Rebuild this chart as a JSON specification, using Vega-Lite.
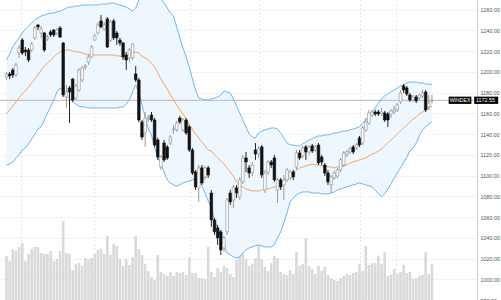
{
"$schema": "https://vega.github.io/schema/vega-lite/v6.json",
"width": 477, "height": 300,
"autosize": "none",
"padding": {"left": 0, "top": 0, "right": 24, "bottom": 0},
"background": "white",
"config": {"view": {"stroke": null}},
"datasets": {
"d": [
{"i":0,"o":1195.1,"h":1199.9,"l":1192.2,"c":1198.0,"u":1211.5,"m":1159.4,"lo":1110.2,"v":44},
{"i":1,"o":1198.0,"h":1199.9,"l":1193.1,"c":1196.0,"u":1217.2,"m":1163.3,"lo":1111.2,"v":39},
{"i":2,"o":1201.8,"h":1203.7,"l":1194.1,"c":1197.0,"u":1224.0,"m":1167.1,"lo":1113.1,"v":51},
{"i":3,"o":1197.0,"h":1208.6,"l":1195.1,"c":1206.6,"u":1228.8,"m":1171.0,"lo":1117.0,"v":49},
{"i":4,"o":1218.2,"h":1225.9,"l":1213.4,"c":1223.0,"u":1232.7,"m":1174.8,"lo":1119.9,"v":53},
{"i":5,"o":1230.7,"h":1232.7,"l":1216.3,"c":1218.2,"u":1237.5,"m":1178.7,"lo":1124.7,"v":57},
{"i":6,"o":1221.1,"h":1224.0,"l":1215.3,"c":1219.2,"u":1241.3,"m":1181.6,"lo":1126.6,"v":39},
{"i":7,"o":1221.1,"h":1223.0,"l":1209.5,"c":1211.5,"u":1244.2,"m":1185.4,"lo":1130.5,"v":46},
{"i":8,"o":1221.1,"h":1228.8,"l":1219.2,"c":1226.9,"u":1247.1,"m":1189.3,"lo":1135.3,"v":51},
{"i":9,"o":1232.7,"h":1244.2,"l":1230.7,"c":1242.3,"u":1250.0,"m":1193.1,"lo":1140.1,"v":53},
{"i":10,"o":1245.2,"h":1246.2,"l":1240.4,"c":1243.3,"u":1251.9,"m":1197.0,"lo":1144.9,"v":53},
{"i":11,"o":1237.5,"h":1244.2,"l":1232.7,"c":1241.3,"u":1253.9,"m":1201.8,"lo":1146.9,"v":47},
{"i":12,"o":1237.5,"h":1238.5,"l":1219.2,"c":1221.1,"u":1254.8,"m":1205.7,"lo":1153.6,"v":46},
{"i":13,"o":1231.7,"h":1235.6,"l":1229.8,"c":1233.6,"u":1255.8,"m":1208.6,"lo":1160.4,"v":46},
{"i":14,"o":1238.5,"h":1240.4,"l":1233.6,"c":1235.6,"u":1256.8,"m":1211.5,"lo":1166.1,"v":49},
{"i":15,"o":1240.4,"h":1241.3,"l":1233.6,"c":1235.6,"u":1256.8,"m":1214.4,"lo":1172.9,"v":39},
{"i":16,"o":1237.5,"h":1242.3,"l":1235.6,"c":1240.4,"u":1257.7,"m":1217.2,"lo":1180.6,"v":41},
{"i":17,"o":1242.3,"h":1244.2,"l":1232.7,"c":1233.6,"u":1258.7,"m":1219.2,"lo":1184.5,"v":49},
{"i":18,"o":1227.8,"h":1228.8,"l":1175.8,"c":1177.7,"u":1259.7,"m":1220.1,"lo":1181.6,"v":79},
{"i":19,"o":1175.8,"h":1187.4,"l":1165.2,"c":1180.6,"u":1261.6,"m":1221.1,"lo":1177.7,"v":47},
{"i":20,"o":1184.5,"h":1186.4,"l":1150.7,"c":1180.6,"u":1262.6,"m":1221.1,"lo":1173.9,"v":46},
{"i":21,"o":1193.1,"h":1194.1,"l":1171.0,"c":1172.9,"u":1262.6,"m":1220.1,"lo":1171.0,"v":30},
{"i":22,"o":1174.8,"h":1188.3,"l":1172.9,"c":1186.4,"u":1263.5,"m":1219.2,"lo":1169.0,"v":36},
{"i":23,"o":1182.5,"h":1203.7,"l":1180.6,"c":1201.8,"u":1263.5,"m":1219.2,"lo":1167.1,"v":37},
{"i":24,"o":1192.2,"h":1205.7,"l":1190.2,"c":1203.7,"u":1264.5,"m":1218.2,"lo":1166.1,"v":34},
{"i":25,"o":1204.7,"h":1207.6,"l":1201.8,"c":1205.7,"u":1264.5,"m":1217.2,"lo":1166.1,"v":42},
{"i":26,"o":1209.5,"h":1217.2,"l":1206.6,"c":1214.4,"u":1264.5,"m":1216.3,"lo":1165.2,"v":41},
{"i":27,"o":1214.4,"h":1225.9,"l":1213.4,"c":1224.0,"u":1264.5,"m":1216.3,"lo":1165.2,"v":42},
{"i":28,"o":1230.7,"h":1236.5,"l":1229.8,"c":1234.6,"u":1264.5,"m":1216.3,"lo":1165.2,"v":46},
{"i":29,"o":1237.5,"h":1248.1,"l":1235.6,"c":1245.2,"u":1264.5,"m":1216.3,"lo":1165.2,"v":50},
{"i":30,"o":1249.1,"h":1254.8,"l":1242.3,"c":1243.3,"u":1265.4,"m":1216.3,"lo":1165.2,"v":51},
{"i":31,"o":1241.3,"h":1248.1,"l":1239.4,"c":1245.2,"u":1265.4,"m":1216.3,"lo":1165.2,"v":46},
{"i":32,"o":1251.0,"h":1252.9,"l":1223.0,"c":1224.0,"u":1265.4,"m":1216.3,"lo":1165.2,"v":64},
{"i":33,"o":1230.7,"h":1250.0,"l":1228.8,"c":1248.1,"u":1266.4,"m":1216.3,"lo":1165.2,"v":45},
{"i":34,"o":1249.1,"h":1251.0,"l":1230.7,"c":1232.7,"u":1266.4,"m":1216.3,"lo":1165.2,"v":56},
{"i":35,"o":1237.5,"h":1239.4,"l":1225.9,"c":1232.7,"u":1265.4,"m":1215.3,"lo":1165.2,"v":54},
{"i":36,"o":1230.7,"h":1232.7,"l":1225.0,"c":1227.8,"u":1264.5,"m":1215.3,"lo":1166.1,"v":41},
{"i":37,"o":1227.8,"h":1228.8,"l":1211.5,"c":1214.4,"u":1263.5,"m":1214.4,"lo":1166.1,"v":34},
{"i":38,"o":1216.3,"h":1219.2,"l":1201.8,"c":1211.5,"u":1262.6,"m":1214.4,"lo":1169.0,"v":41},
{"i":39,"o":1213.4,"h":1223.0,"l":1209.5,"c":1221.1,"u":1260.6,"m":1216.3,"lo":1172.9,"v":35},
{"i":40,"o":1213.4,"h":1227.8,"l":1211.5,"c":1226.9,"u":1258.7,"m":1218.2,"lo":1180.6,"v":43},
{"i":41,"o":1198.0,"h":1205.7,"l":1190.2,"c":1192.2,"u":1261.6,"m":1219.2,"lo":1187.4,"v":64},
{"i":42,"o":1192.2,"h":1194.1,"l":1151.7,"c":1153.6,"u":1269.3,"m":1218.2,"lo":1179.6,"v":51},
{"i":43,"o":1151.7,"h":1153.6,"l":1134.3,"c":1137.2,"u":1277.0,"m":1215.3,"lo":1168.1,"v":45},
{"i":44,"o":1141.1,"h":1161.3,"l":1127.6,"c":1155.5,"u":1281.8,"m":1213.4,"lo":1156.5,"v":36},
{"i":45,"o":1154.6,"h":1158.4,"l":1151.7,"c":1155.5,"u":1285.7,"m":1211.5,"lo":1144.9,"v":29},
{"i":46,"o":1158.4,"h":1161.3,"l":1151.7,"c":1153.6,"u":1288.6,"m":1208.6,"lo":1139.2,"v":23},
{"i":47,"o":1153.6,"h":1155.5,"l":1127.6,"c":1129.5,"u":1284.7,"m":1204.7,"lo":1126.6,"v":20},
{"i":48,"o":1134.3,"h":1136.3,"l":1115.1,"c":1117.9,"u":1277.0,"m":1198.9,"lo":1117.9,"v":45},
{"i":49,"o":1108.3,"h":1119.9,"l":1105.4,"c":1117.9,"u":1270.3,"m":1193.1,"lo":1111.2,"v":28},
{"i":50,"o":1131.4,"h":1134.3,"l":1113.1,"c":1115.1,"u":1266.4,"m":1188.3,"lo":1103.5,"v":26},
{"i":51,"o":1127.6,"h":1129.5,"l":1115.1,"c":1117.0,"u":1261.6,"m":1183.5,"lo":1095.8,"v":24},
{"i":52,"o":1131.4,"h":1139.2,"l":1129.5,"c":1137.2,"u":1256.8,"m":1177.7,"lo":1092.9,"v":28},
{"i":53,"o":1144.0,"h":1148.8,"l":1140.1,"c":1144.9,"u":1253.9,"m":1172.9,"lo":1091.0,"v":24},
{"i":54,"o":1144.0,"h":1152.7,"l":1142.1,"c":1150.7,"u":1243.3,"m":1168.1,"lo":1090.0,"v":28},
{"i":55,"o":1155.5,"h":1157.5,"l":1149.8,"c":1151.7,"u":1232.7,"m":1163.3,"lo":1091.0,"v":27},
{"i":56,"o":1144.0,"h":1155.5,"l":1142.1,"c":1153.6,"u":1223.0,"m":1159.4,"lo":1092.9,"v":28},
{"i":57,"o":1153.6,"h":1155.5,"l":1139.2,"c":1141.1,"u":1214.4,"m":1154.6,"lo":1093.9,"v":25},
{"i":58,"o":1146.9,"h":1148.8,"l":1122.8,"c":1124.7,"u":1204.7,"m":1148.8,"lo":1094.8,"v":43},
{"i":59,"o":1124.7,"h":1126.6,"l":1100.6,"c":1102.5,"u":1193.1,"m":1144.9,"lo":1095.8,"v":27},
{"i":60,"o":1103.5,"h":1105.4,"l":1086.1,"c":1089.0,"u":1182.5,"m":1140.1,"lo":1096.7,"v":27},
{"i":61,"o":1088.1,"h":1110.2,"l":1074.6,"c":1107.4,"u":1174.8,"m":1136.3,"lo":1094.8,"v":22},
{"i":62,"o":1107.4,"h":1110.2,"l":1091.0,"c":1092.9,"u":1173.9,"m":1132.4,"lo":1090.0,"v":22},
{"i":63,"o":1098.7,"h":1109.3,"l":1095.8,"c":1107.4,"u":1172.9,"m":1128.6,"lo":1083.2,"v":21},
{"i":64,"o":1107.4,"h":1109.3,"l":1097.7,"c":1100.6,"u":1172.9,"m":1124.7,"lo":1075.5,"v":53},
{"i":65,"o":1083.2,"h":1086.1,"l":1050.5,"c":1057.2,"u":1173.9,"m":1123.7,"lo":1068.8,"v":28},
{"i":66,"o":1057.2,"h":1059.2,"l":1042.8,"c":1045.7,"u":1174.8,"m":1119.9,"lo":1057.2,"v":23},
{"i":67,"o":1049.5,"h":1052.4,"l":1033.1,"c":1039.9,"u":1175.8,"m":1117.0,"lo":1049.5,"v":32},
{"i":68,"o":1045.7,"h":1047.6,"l":1023.5,"c":1028.3,"u":1177.7,"m":1114.1,"lo":1040.8,"v":28},
{"i":69,"o":1030.2,"h":1041.8,"l":1026.4,"c":1039.9,"u":1181.6,"m":1111.2,"lo":1032.2,"v":34},
{"i":70,"o":1045.7,"h":1078.4,"l":1042.8,"c":1076.5,"u":1180.6,"m":1107.4,"lo":1025.4,"v":32},
{"i":71,"o":1083.2,"h":1086.1,"l":1071.7,"c":1074.6,"u":1179.6,"m":1103.5,"lo":1023.5,"v":26},
{"i":72,"o":1076.5,"h":1091.0,"l":1068.8,"c":1089.0,"u":1173.9,"m":1099.6,"lo":1021.6,"v":23},
{"i":73,"o":1088.1,"h":1091.0,"l":1078.4,"c":1083.2,"u":1167.1,"m":1093.9,"lo":1020.6,"v":40},
{"i":74,"o":1079.4,"h":1098.7,"l":1076.5,"c":1095.8,"u":1160.4,"m":1091.0,"lo":1021.6,"v":44},
{"i":75,"o":1093.9,"h":1119.9,"l":1091.9,"c":1117.0,"u":1153.6,"m":1089.0,"lo":1025.4,"v":47},
{"i":76,"o":1117.0,"h":1122.8,"l":1103.5,"c":1113.1,"u":1146.9,"m":1087.1,"lo":1028.3,"v":41},
{"i":77,"o":1107.4,"h":1110.2,"l":1097.7,"c":1102.5,"u":1140.1,"m":1086.1,"lo":1030.2,"v":34},
{"i":78,"o":1102.5,"h":1113.1,"l":1099.6,"c":1110.2,"u":1137.2,"m":1085.2,"lo":1031.2,"v":36},
{"i":79,"o":1124.7,"h":1131.4,"l":1115.1,"c":1120.8,"u":1136.3,"m":1085.2,"lo":1032.2,"v":42},
{"i":80,"o":1120.8,"h":1128.6,"l":1117.0,"c":1125.7,"u":1141.1,"m":1085.2,"lo":1033.1,"v":55},
{"i":81,"o":1127.6,"h":1129.5,"l":1097.7,"c":1100.6,"u":1143.0,"m":1086.1,"lo":1032.2,"v":41},
{"i":82,"o":1086.1,"h":1105.4,"l":1083.2,"c":1102.5,"u":1144.0,"m":1087.1,"lo":1031.2,"v":33},
{"i":83,"o":1103.5,"h":1115.1,"l":1100.6,"c":1113.1,"u":1144.9,"m":1087.1,"lo":1031.2,"v":29},
{"i":84,"o":1113.1,"h":1115.1,"l":1107.4,"c":1110.2,"u":1145.9,"m":1088.1,"lo":1031.2,"v":37},
{"i":85,"o":1117.0,"h":1119.9,"l":1093.9,"c":1095.8,"u":1145.9,"m":1089.0,"lo":1033.1,"v":44},
{"i":86,"o":1086.1,"h":1097.7,"l":1073.6,"c":1095.8,"u":1144.9,"m":1091.0,"lo":1039.9,"v":42},
{"i":87,"o":1095.8,"h":1097.7,"l":1086.1,"c":1089.0,"u":1141.1,"m":1092.9,"lo":1045.7,"v":28},
{"i":88,"o":1091.0,"h":1100.6,"l":1076.5,"c":1095.8,"u":1136.3,"m":1095.8,"lo":1054.3,"v":26},
{"i":89,"o":1095.8,"h":1107.4,"l":1093.9,"c":1105.4,"u":1131.4,"m":1098.7,"lo":1064.0,"v":25},
{"i":90,"o":1097.7,"h":1105.4,"l":1095.8,"c":1103.5,"u":1129.5,"m":1100.6,"lo":1074.6,"v":30},
{"i":91,"o":1103.5,"h":1105.4,"l":1095.8,"c":1098.7,"u":1129.5,"m":1102.5,"lo":1078.4,"v":26},
{"i":92,"o":1108.3,"h":1124.7,"l":1105.4,"c":1121.8,"u":1128.6,"m":1105.4,"lo":1081.3,"v":48},
{"i":93,"o":1121.8,"h":1124.7,"l":1115.1,"c":1117.0,"u":1128.6,"m":1107.4,"lo":1083.2,"v":34},
{"i":94,"o":1118.9,"h":1128.6,"l":1117.0,"c":1126.6,"u":1130.5,"m":1108.3,"lo":1084.2,"v":36},
{"i":95,"o":1127.6,"h":1129.5,"l":1115.1,"c":1122.8,"u":1132.4,"m":1109.3,"lo":1084.2,"v":62},
{"i":96,"o":1122.8,"h":1129.5,"l":1119.9,"c":1127.6,"u":1134.3,"m":1110.2,"lo":1084.2,"v":34},
{"i":97,"o":1128.6,"h":1130.5,"l":1121.8,"c":1123.7,"u":1135.3,"m":1111.2,"lo":1083.2,"v":31},
{"i":98,"o":1124.7,"h":1129.5,"l":1122.8,"c":1127.6,"u":1137.2,"m":1110.2,"lo":1083.2,"v":26},
{"i":99,"o":1129.5,"h":1131.4,"l":1110.2,"c":1112.2,"u":1138.2,"m":1110.2,"lo":1083.2,"v":34},
{"i":100,"o":1117.9,"h":1119.9,"l":1110.2,"c":1113.1,"u":1138.2,"m":1109.3,"lo":1082.3,"v":29},
{"i":101,"o":1110.2,"h":1112.2,"l":1099.6,"c":1102.5,"u":1139.2,"m":1109.3,"lo":1082.3,"v":33},
{"i":102,"o":1102.5,"h":1105.4,"l":1091.0,"c":1093.9,"u":1139.2,"m":1108.3,"lo":1082.3,"v":25},
{"i":103,"o":1091.0,"h":1100.6,"l":1083.2,"c":1098.7,"u":1140.1,"m":1108.3,"lo":1083.2,"v":22},
{"i":104,"o":1097.7,"h":1104.5,"l":1095.8,"c":1102.5,"u":1141.1,"m":1107.4,"lo":1084.2,"v":20},
{"i":105,"o":1099.6,"h":1107.4,"l":1097.7,"c":1105.4,"u":1141.1,"m":1108.3,"lo":1086.1,"v":19},
{"i":106,"o":1105.4,"h":1117.0,"l":1103.5,"c":1115.1,"u":1142.1,"m":1108.3,"lo":1087.1,"v":22},
{"i":107,"o":1110.2,"h":1123.7,"l":1108.3,"c":1121.8,"u":1143.0,"m":1109.3,"lo":1088.1,"v":24},
{"i":108,"o":1119.9,"h":1124.7,"l":1117.9,"c":1122.8,"u":1143.0,"m":1110.2,"lo":1089.0,"v":26},
{"i":109,"o":1122.8,"h":1127.6,"l":1120.8,"c":1125.7,"u":1144.0,"m":1112.2,"lo":1090.0,"v":25},
{"i":110,"o":1127.6,"h":1129.5,"l":1120.8,"c":1122.8,"u":1144.9,"m":1113.1,"lo":1091.0,"v":27},
{"i":111,"o":1126.6,"h":1131.4,"l":1124.7,"c":1129.5,"u":1145.9,"m":1114.1,"lo":1091.9,"v":28},
{"i":112,"o":1136.3,"h":1138.2,"l":1127.6,"c":1129.5,"u":1146.9,"m":1115.1,"lo":1092.9,"v":36},
{"i":113,"o":1131.4,"h":1147.8,"l":1129.5,"c":1145.9,"u":1150.7,"m":1116.0,"lo":1091.9,"v":29},
{"i":114,"o":1144.0,"h":1155.5,"l":1142.1,"c":1151.7,"u":1153.6,"m":1117.0,"lo":1091.0,"v":54},
{"i":115,"o":1150.7,"h":1163.3,"l":1148.8,"c":1160.4,"u":1157.5,"m":1118.9,"lo":1090.0,"v":35},
{"i":116,"o":1158.4,"h":1163.3,"l":1156.5,"c":1161.3,"u":1161.3,"m":1120.8,"lo":1089.0,"v":37},
{"i":117,"o":1161.3,"h":1163.3,"l":1157.5,"c":1159.4,"u":1165.2,"m":1121.8,"lo":1086.1,"v":37},
{"i":118,"o":1161.3,"h":1163.3,"l":1157.5,"c":1159.4,"u":1170.0,"m":1123.7,"lo":1082.3,"v":44},
{"i":119,"o":1159.4,"h":1165.2,"l":1157.5,"c":1161.3,"u":1173.9,"m":1125.7,"lo":1079.4,"v":36},
{"i":120,"o":1160.4,"h":1162.3,"l":1151.7,"c":1153.6,"u":1176.8,"m":1128.6,"lo":1082.3,"v":48},
{"i":121,"o":1159.4,"h":1161.3,"l":1146.9,"c":1153.6,"u":1178.7,"m":1131.4,"lo":1087.1,"v":24},
{"i":122,"o":1159.4,"h":1164.2,"l":1155.5,"c":1162.3,"u":1180.6,"m":1134.3,"lo":1091.9,"v":25},
{"i":123,"o":1161.3,"h":1167.1,"l":1159.4,"c":1163.3,"u":1182.5,"m":1137.2,"lo":1097.7,"v":31},
{"i":124,"o":1163.3,"h":1170.0,"l":1161.3,"c":1168.1,"u":1184.5,"m":1140.1,"lo":1102.5,"v":26},
{"i":125,"o":1171.0,"h":1182.5,"l":1169.0,"c":1179.6,"u":1186.4,"m":1143.0,"lo":1107.4,"v":28},
{"i":126,"o":1186.4,"h":1188.3,"l":1179.6,"c":1182.5,"u":1187.4,"m":1145.9,"lo":1112.2,"v":35},
{"i":127,"o":1184.5,"h":1186.4,"l":1176.8,"c":1178.7,"u":1189.3,"m":1148.8,"lo":1117.9,"v":27},
{"i":128,"o":1177.7,"h":1179.6,"l":1171.0,"c":1172.9,"u":1190.2,"m":1151.7,"lo":1123.7,"v":28},
{"i":129,"o":1172.9,"h":1177.7,"l":1171.0,"c":1175.8,"u":1190.2,"m":1154.6,"lo":1126.6,"v":21},
{"i":130,"o":1175.8,"h":1177.7,"l":1170.0,"c":1171.9,"u":1190.2,"m":1156.5,"lo":1131.4,"v":22},
{"i":131,"o":1174.8,"h":1178.7,"l":1172.9,"c":1177.7,"u":1189.3,"m":1159.4,"lo":1138.2,"v":24},
{"i":132,"o":1176.8,"h":1182.5,"l":1174.8,"c":1179.6,"u":1189.3,"m":1161.3,"lo":1144.0,"v":25},
{"i":133,"o":1180.6,"h":1182.5,"l":1161.3,"c":1163.3,"u":1188.3,"m":1163.3,"lo":1146.9,"v":48},
{"i":134,"o":1166.1,"h":1177.7,"l":1163.3,"c":1170.0,"u":1188.3,"m":1165.2,"lo":1149.8,"v":26},
{"i":135,"o":1171.9,"h":1177.7,"l":1170.0,"c":1172.55,"u":1187.4,"m":1167.1,"lo":1151.7,"v":36}
],
"vg": [{"i":4.8},{"i":28.1},{"i":58.5},{"i":80.3},{"i":112.3},{"i":123.8}]
},
"resolve": {"scale": {"y": "independent"}},
"layer": [
{"data": {"name": "vg"}, "mark": {"type": "rule", "stroke": "#e6e6e6", "strokeDash": [2, 2], "strokeWidth": 1},
 "encoding": {"x": {"field": "i", "type": "quantitative", "scale": {"domain": [-0.47, 147.7], "nice": false, "zero": false}, "axis": null}}},
{"data": {"name": "d"}, "mark": {"type": "area", "color": "#eef6fe", "clip": true},
 "encoding": {
  "x": {"field": "i", "type": "quantitative", "scale": {"domain": [-0.47, 147.7], "nice": false, "zero": false}, "axis": null},
  "y": {"field": "u", "type": "quantitative", "scale": {"domain": [980, 1269.3], "nice": false, "zero": false},
        "axis": {"orient": "right", "values": [980,1000,1020,1040,1060,1080,1100,1120,1140,1160,1180,1200,1220,1240,1260], "format": ".2f", "title": null,
                 "grid": true, "gridDash": [2, 2], "gridColor": "#e6e6e6", "ticks": false, "domainColor": "#d0d0d0",
                 "labelFontSize": 5.4, "labelColor": "#555555", "labelPadding": 3, "labelFont": "Liberation Sans"}},
  "y2": {"field": "lo"}}},
{"data": {"name": "d"}, "mark": {"type": "bar", "color": "#d9d9dc", "size": 2.6},
 "encoding": {
  "x": {"field": "i", "type": "quantitative"},
  "y": {"field": "v", "type": "quantitative", "scale": {"domain": [0, 300], "nice": false}, "axis": null}}},
{"data": {"values": [{}]}, "mark": {"type": "rule", "stroke": "#b8b8b8", "strokeWidth": 1},
 "encoding": {"y": {"datum": 1172.55, "type": "quantitative", "scale": {"domain": [980, 1269.3], "nice": false, "zero": false}, "axis": null}}},
{"data": {"name": "d"}, "mark": {"type": "line", "stroke": "#70b5f0", "strokeWidth": 1, "clip": true},
 "encoding": {
  "x": {"field": "i", "type": "quantitative"},
  "y": {"field": "u", "type": "quantitative", "scale": {"domain": [980, 1269.3], "nice": false, "zero": false}, "axis": null}}},
{"data": {"name": "d"}, "mark": {"type": "line", "stroke": "#70b5f0", "strokeWidth": 1, "clip": true},
 "encoding": {
  "x": {"field": "i", "type": "quantitative"},
  "y": {"field": "lo", "type": "quantitative", "scale": {"domain": [980, 1269.3], "nice": false, "zero": false}, "axis": null}}},
{"data": {"name": "d"}, "mark": {"type": "line", "stroke": "#f5a462", "strokeWidth": 1, "clip": true},
 "encoding": {
  "x": {"field": "i", "type": "quantitative"},
  "y": {"field": "m", "type": "quantitative", "scale": {"domain": [980, 1269.3], "nice": false, "zero": false}, "axis": null}}},
{"data": {"name": "d"}, "mark": {"type": "rule", "strokeWidth": 1},
 "encoding": {
  "x": {"field": "i", "type": "quantitative"},
  "y": {"field": "l", "type": "quantitative", "scale": {"domain": [980, 1269.3], "nice": false, "zero": false}, "axis": null},
  "y2": {"field": "h"},
  "stroke": {"condition": {"test": "datum.c >= datum.o", "value": "#9a9a9a"}, "value": "#222222"}}},
{"data": {"name": "d"}, "mark": {"type": "bar", "size": 2.6, "strokeWidth": 0.6},
 "encoding": {
  "x": {"field": "i", "type": "quantitative"},
  "y": {"field": "o", "type": "quantitative", "scale": {"domain": [980, 1269.3], "nice": false, "zero": false}, "axis": null},
  "y2": {"field": "c"},
  "fill": {"condition": {"test": "datum.c >= datum.o", "value": "#ffffff"}, "value": "#111111"},
  "stroke": {"condition": {"test": "datum.c >= datum.o", "value": "#8a8a8a"}, "value": "#111111"}}},
{"data": {"values": [{}]}, "mark": {"type": "rect", "color": "#000000"},
 "encoding": {
  "x": {"datum": 140.3, "type": "quantitative"}, "x2": {"datum": 147.5},
  "y": {"datum": 1176.1, "type": "quantitative", "scale": {"domain": [980, 1269.3], "nice": false, "zero": false}, "axis": null}, "y2": {"datum": 1169.1}}},
{"data": {"values": [{}]}, "mark": {"type": "rect", "color": "#000000"},
 "encoding": {
  "x": {"datum": 148.4, "type": "quantitative"}, "x2": {"datum": 156},
  "y": {"datum": 1176.1, "type": "quantitative", "scale": {"domain": [980, 1269.3], "nice": false, "zero": false}, "axis": null}, "y2": {"datum": 1169.1}}},
{"data": {"values": [{"t": "WINDEX"}]}, "mark": {"type": "text", "color": "#ffffff", "fontSize": 5.2, "font": "Liberation Sans", "align": "center", "baseline": "middle"},
 "encoding": {
  "x": {"datum": 143.9, "type": "quantitative"},
  "y": {"datum": 1172.55, "type": "quantitative", "scale": {"domain": [980, 1269.3], "nice": false, "zero": false}, "axis": null},
  "text": {"field": "t"}}},
{"data": {"values": [{"t": "1172.55"}]}, "mark": {"type": "text", "color": "#ffffff", "fontSize": 5.4, "font": "Liberation Sans", "align": "center", "baseline": "middle"},
 "encoding": {
  "x": {"datum": 152.0, "type": "quantitative"},
  "y": {"datum": 1172.55, "type": "quantitative", "scale": {"domain": [980, 1269.3], "nice": false, "zero": false}, "axis": null},
  "text": {"field": "t"}}}
]
}
